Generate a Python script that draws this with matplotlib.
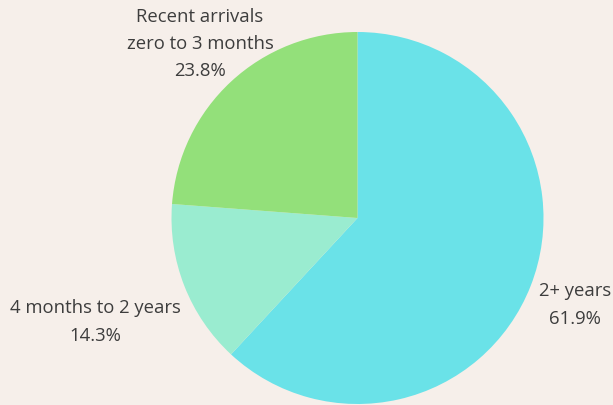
import matplotlib
matplotlib.use("Agg")
import matplotlib.pyplot as plt

categories = ["2+ years", "4 months to 2 years", "Recent arrivals\nzero to 3 months"]
values = [61.9, 14.3, 23.8]
colors = ["#6ae2e8", "#9aecd0", "#93e07a"]

bg = "#f6efea"
W, H = 613, 405
fig = plt.figure(figsize=(W / 100, H / 100), dpi=100, facecolor=bg)
ax = fig.add_axes([0, 0, 1, 1])
ax.set_facecolor(bg)

cx, cy, r = 357.5, H - 218, 186
ax.pie(values, colors=colors, startangle=90, counterclock=False,
       center=(cx, cy), radius=r, frame=True,
       wedgeprops=dict(linewidth=0))
ax.set_xlim(0, W)
ax.set_ylim(0, H)
ax.set_aspect("equal")
ax.axis("off")

label_pos = [(575, H - 305), (95, H - 322), (200, H - 44)]
for lab, v, (x, y) in zip(categories, values, label_pos):
    ax.text(x, y, f"{lab}\n{v:.1f}%", ha="center", va="center",
            fontsize=13.3, family="Open Sans", color="#3d3d3d", linespacing=1.65)

fig.savefig("out.png", dpi=100, facecolor=bg)
